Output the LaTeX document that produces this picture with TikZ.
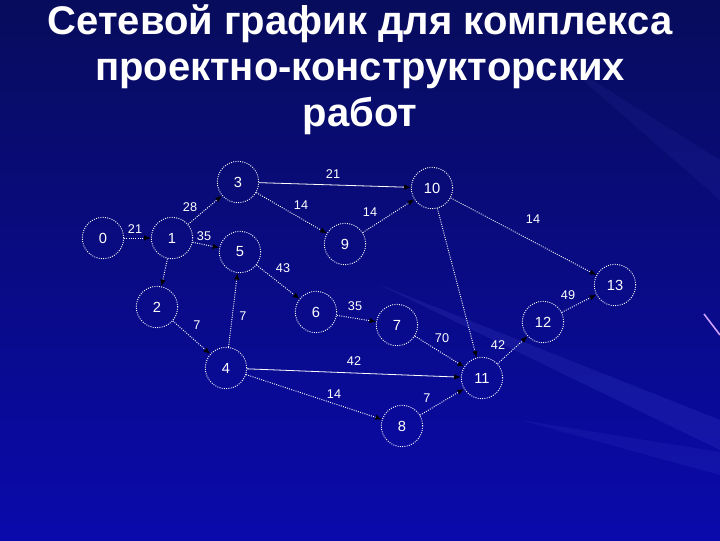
\documentclass[tikz,border=0pt]{standalone}
\usepackage{fontspec}
\setmainfont{Liberation Sans}
\usetikzlibrary{arrows.meta}

\definecolor{bgtop}{RGB}{8,12,92}
\definecolor{bgbot}{RGB}{10,10,172}
\definecolor{ray}{RGB}{90,100,230}

\tikzset{
  event/.style={circle, draw=white, densely dotted, line width=0.7pt, minimum size=31pt, inner sep=0pt,
    text=white, font=\fontsize{11}{12}\selectfont},
  edge/.style={draw=white, densely dotted, line width=0.7pt, -{Latex[length=5pt,width=4pt,fill=black,color=black]}},
  edgesolid/.style={draw=white, line width=0.6pt, -{Latex[length=5pt,width=4pt,fill=black,color=black]}},
  weight/.style={text=white, font=\fontsize{9.5}{10}\selectfont, inner sep=1pt}
}

\begin{document}
\begin{tikzpicture}[x=0.75pt,y=0.75pt,yscale=-1,xscale=1]
\useasboundingbox (0,0) rectangle (720,540);

% background
\shade[top color=bgtop, bottom color=bgbot] (0,0) rectangle (720,540);
\fill[ray, opacity=0.14] (380,285) -- (720,420) -- (720,450) -- cycle;
\fill[ray, opacity=0.10] (520,420) -- (720,452) -- (720,475) -- cycle;
\fill[ray, opacity=0.08] (560,60) -- (720,160) -- (720,200) -- cycle;
\draw[color={rgb,255:red,205;green,160;blue,255}, line width=1.2pt] (704,314) -- (720,335);

% title
\node[text=white, font=\fontsize{30}{34.5}\selectfont\bfseries, align=center] (title) at (360,70)
  {Сетевой график для комплекса\\проектно-конструкторских\\работ};

% events
\node[event] (n0) at (103,238) {0};
\node[event] (n1) at (172,238) {1};
\node[event] (n2) at (157,307) {2};
\node[event] (n3) at (238,182) {3};
\node[event] (n4) at (226,368) {4};
\node[event] (n5) at (240,252) {5};
\node[event] (n6) at (316,312) {6};
\node[event] (n7) at (397,325) {7};
\node[event] (n8) at (402,426) {8};
\node[event] (n9) at (345,244) {9};
\node[event] (n10) at (432,188) {10};
\node[event] (n11) at (482,378) {11};
\node[event] (n12) at (543,322) {12};
\node[event] (n13) at (615,285) {13};

% works
\draw[edge] (n0) -- (n1);
\draw[edge] (n1) -- (n3);
\draw[edge] (n1) -- (n5);
\draw[edge] (n1) -- (n2);
\draw[edgesolid] (n3) -- (n10);
\draw[edge] (n3) -- (n9);
\draw[edge] (n9) -- (n10);
\draw[edge] (n10) -- (n13);
\draw[edge] (n10) -- (n11);
\draw[edge] (n2) -- (n4);
\draw[edge] (n4) -- (n5);
\draw[edge] (n5) -- (n6);
\draw[edge] (n6) -- (n7);
\draw[edge] (n7) -- (n11);
\draw[edgesolid] (n4) -- (n11);
\draw[edge] (n4) -- (n8);
\draw[edge] (n8) -- (n11);
\draw[edge] (n11) -- (n12);
\draw[edge] (n12) -- (n13);

% durations
\node[weight] (w01) at (135,229) {21};
\node[weight] (w13) at (190,207) {28};
\node[weight] (w15) at (204,236) {35};
\node[weight] (w310) at (333,174) {21};
\node[weight] (w39) at (301,205) {14};
\node[weight] (w910) at (370,212) {14};
\node[weight] (w1013) at (533,219) {14};
\node[weight] (w24) at (197,325) {7};
\node[weight] (w45) at (243,316) {7};
\node[weight] (w56) at (283,268) {43};
\node[weight] (w67) at (355,306) {35};
\node[weight] (w711) at (442,338) {70};
\node[weight] (w411) at (354,361) {42};
\node[weight] (w48) at (334,394) {14};
\node[weight] (w811) at (427,398) {7};
\node[weight] (w1112) at (498,345) {42};
\node[weight] (w1213) at (568,295) {49};

\end{tikzpicture}
\end{document}
